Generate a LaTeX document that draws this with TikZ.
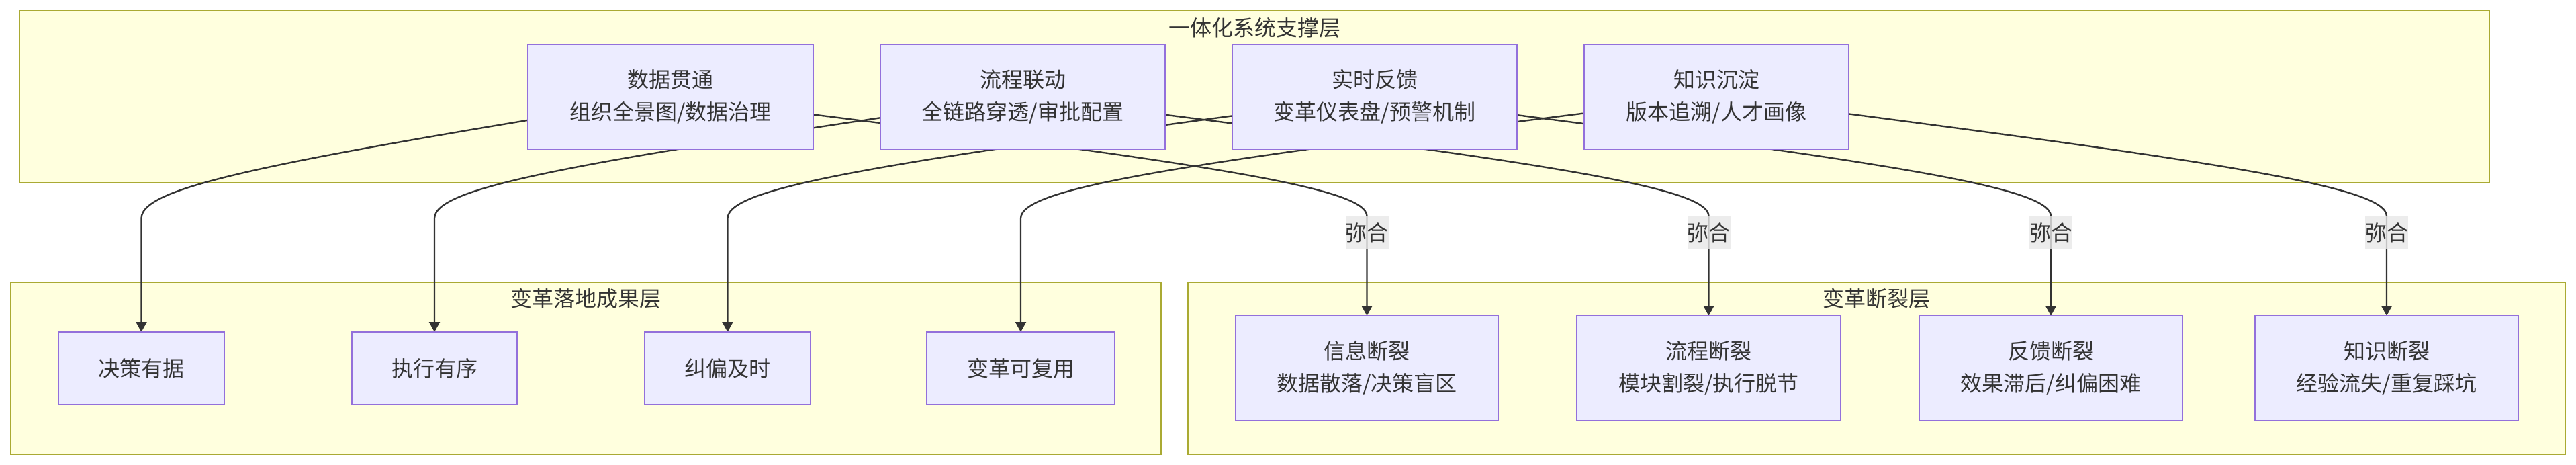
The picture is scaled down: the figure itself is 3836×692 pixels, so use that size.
\documentclass[tikz,border=0pt]{standalone}
\usepackage{fontspec}
\setmainfont{Noto Sans CJK SC}
\usepackage{tikz}
\usetikzlibrary{arrows.meta,positioning,calc,backgrounds}
\definecolor{clfill}{HTML}{FFFFDE}
\definecolor{cldraw}{HTML}{AAAA33}
\definecolor{ndfill}{HTML}{ECECFF}
\definecolor{nddraw}{HTML}{9370DB}
\definecolor{ink}{HTML}{333333}
\definecolor{lblgray}{HTML}{E8E8E8}
\pgfdeclarelayer{edgelayer}
\pgfsetlayers{background,edgelayer,main}

\begin{document}
\begin{tikzpicture}[
  x=1pt, y=-1pt,
  node distance=100pt,
  font=\fontsize{32}{48}\selectfont, text=ink,
  cluster/.style={draw=cldraw,fill=clfill,line width=2pt,inner sep=0pt,
                  outer sep=0pt,minimum height=256pt},
  box/.style={draw=nddraw,fill=ndfill,line width=2pt,align=center,
              inner sep=0pt,outer sep=0pt},
  highbox/.style={box,minimum height=156pt},
  lowbox/.style={box,minimum height=108pt},
  mihe/.style={fill=lblgray,fill opacity=.8,text opacity=1,inner sep=0pt,
               minimum width=64pt,minimum height=48pt},
  arr/.style={draw=ink,line width=2.4pt,-{Triangle[length=15pt,width=16pt]}}
]
\useasboundingbox (0,0) rectangle (3836,692);

% layers
\begin{scope}[on background layer]
\fill[white] (0,0) rectangle (3836,692);
\node[cluster,minimum width=3678pt] (support) at (1868,144) {};
\node[cluster,minimum width=1713pt] (result) at (872.5,548) {};
\node[cluster,minimum width=2051pt] (gap) at (2794.5,548) {};
\end{scope}
\node at ($(support.north)+(0,25)$) {一体化系统支撑层};
\node at ($(result.north)+(0,24)$) {变革落地成果层};
\node at ($(gap.north)+(0,24)$) {变革断裂层};

% support layer
\node[highbox,minimum width=425pt] (A) at (998.5,144) {数据贯通\\组织全景图/数据治理};
\node[highbox,minimum width=424pt,right=of A] (B) {流程联动\\全链路穿透/审批配置};
\node[highbox,minimum width=424pt,right=of B] (C) {实时反馈\\变革仪表盘/预警机制};
\node[highbox,minimum width=394pt,right=of C] (D) {知识沉淀\\版本追溯/人才画像};

% results
\node[lowbox,minimum width=247pt] (R1) at (210.5,548) {决策有据};
\node[lowbox,minimum width=246pt] (R2) at (647,548) {执行有序};
\node[lowbox,minimum width=247pt] (R3) at (1083.5,548) {纠偏及时};
\node[lowbox,minimum width=280pt] (R4) at (1520,548) {变革可复用};

% gaps
\node[highbox,minimum width=391pt] (G1) at (2035.5,548) {信息断裂\\数据散落/决策盲区};
\node[highbox,minimum width=393pt] (G2) at (2544.5,548) {流程断裂\\模块割裂/执行脱节};
\node[highbox,minimum width=392pt] (G3) at (3054,548) {反馈断裂\\效果滞后/纠偏困难};
\node[highbox,minimum width=392pt] (G4) at (3554,548) {知识断裂\\经验流失/重复踩坑};

\node[mihe] (m1) at (G1.north |- 0,346) {弥合};
\node[mihe] (m2) at (G2.north |- 0,346) {弥合};
\node[mihe] (m3) at (G3.north |- 0,346) {弥合};
\node[mihe] (m4) at (G4.north |- 0,346) {弥合};

\begin{pgfonlayer}{edgelayer}
\draw[arr] (A.center) .. controls ($(A.center)!.75!(R1.north|-0,272)$) and (R1.north|-0,277) .. (R1.north|-0,325) -- (R1.north);
\draw[arr] (B.center) .. controls ($(B.center)!.75!(R2.north|-0,272)$) and (R2.north|-0,277) .. (R2.north|-0,325) -- (R2.north);
\draw[arr] (C.center) .. controls ($(C.center)!.75!(R3.north|-0,272)$) and (R3.north|-0,277) .. (R3.north|-0,325) -- (R3.north);
\draw[arr] (D.center) .. controls ($(D.center)!.75!(R4.north|-0,272)$) and (R4.north|-0,277) .. (R4.north|-0,325) -- (R4.north);
\draw[arr] (A.center) .. controls ($(A.center)!.75!(m1.north|-0,272)$) and (m1.north|-0,277) .. (m1.north) -- (G1.north);
\draw[arr] (B.center) .. controls ($(B.center)!.75!(m2.north|-0,272)$) and (m2.north|-0,277) .. (m2.north) -- (G2.north);
\draw[arr] (C.center) .. controls ($(C.center)!.75!(m3.north|-0,272)$) and (m3.north|-0,277) .. (m3.north) -- (G3.north);
\draw[arr] (D.center) .. controls ($(D.center)!.75!(m4.north|-0,272)$) and (m4.north|-0,277) .. (m4.north) -- (G4.north);
\end{pgfonlayer}
\end{tikzpicture}
\end{document}
